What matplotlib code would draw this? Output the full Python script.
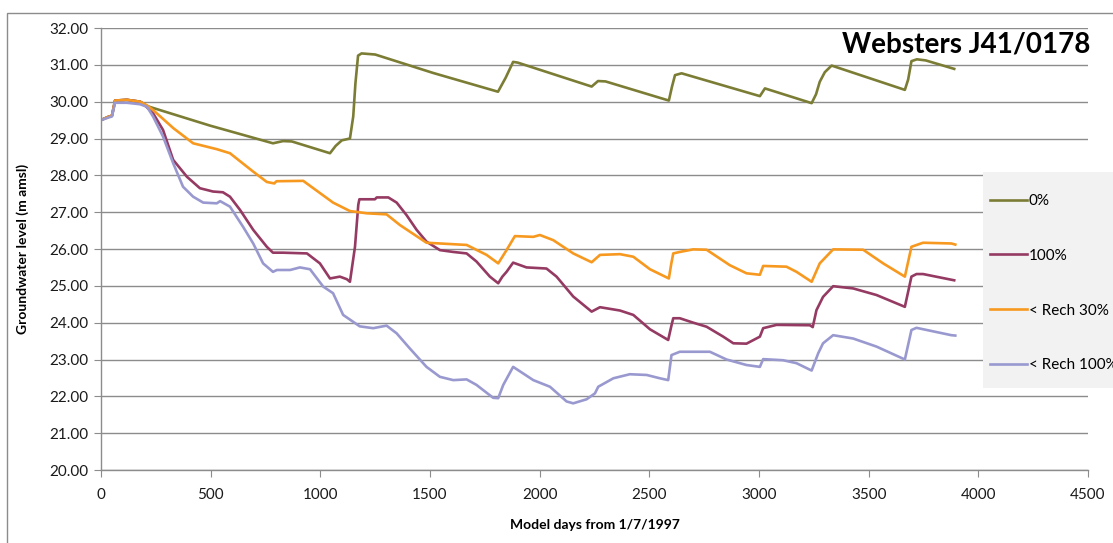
import matplotlib
matplotlib.use("Agg")
import matplotlib.pyplot as plt
from matplotlib.patches import Rectangle

plt.rcParams['font.family'] = ['Lato', 'DejaVu Sans']

# ---------------- data ----------------
series_labels = ["0%", "100%", "< Rech 30%", "< Rech 100%"]

green_days = [0, 30, 50, 64, 118, 178, 210, 497, 784, 830, 870, 1044, 1070, 1098, 1135,
              1150, 1160, 1172, 1188, 1250, 1514, 1810, 1845, 1879, 1900, 2237, 2266, 2300,
              2589, 2603, 2617, 2647, 3004, 3027, 3240, 3260, 3277, 3300, 3331, 3665, 3680,
              3695, 3720, 3760, 3890]
green_vals = [29.5, 29.58, 29.62, 30.03, 30.05, 30.0, 29.88, 29.35, 28.87, 28.93, 28.92, 28.6,
              28.8, 28.95, 29.0, 29.6, 30.5, 31.25, 31.31, 31.28, 30.78, 30.27, 30.65, 31.08,
              31.06, 30.41, 30.56, 30.55, 30.03, 30.4, 30.72, 30.77, 30.15, 30.36, 29.96, 30.2,
              30.54, 30.8, 30.98, 30.32, 30.6, 31.1, 31.15, 31.12, 30.89]

maroon_days = [0, 30, 50, 64, 118, 178, 192, 238, 283, 329, 392, 451, 511, 556, 588, 634, 694,
               756, 784, 830, 939, 998, 1044, 1089, 1121, 1135, 1158, 1173, 1178, 1249, 1257,
               1310, 1348, 1393, 1439, 1484, 1545, 1606, 1667, 1712, 1773, 1811, 1830, 1849,
               1879, 1940, 2031, 2077, 2153, 2237, 2275, 2366, 2427, 2503, 2586, 2600, 2609,
               2639, 2700, 2761, 2837, 2883, 2943, 3004, 3019, 3080, 3232, 3245, 3262, 3292,
               3338, 3429, 3536, 3665, 3695, 3718, 3748, 3890]
maroon_vals = [29.5, 29.58, 29.62, 30.03, 30.05, 30.0, 29.95, 29.68, 29.23, 28.42, 27.96, 27.65,
               27.56, 27.54, 27.42, 27.06, 26.52, 26.06, 25.9, 25.9, 25.88, 25.61, 25.2, 25.25,
               25.18, 25.11, 26.06, 27.2, 27.35, 27.35, 27.4, 27.4, 27.26, 26.92, 26.52, 26.2,
               25.97, 25.92, 25.88, 25.66, 25.25, 25.07, 25.25, 25.38, 25.63, 25.5, 25.47, 25.25,
               24.71, 24.3, 24.42, 24.33, 24.21, 23.82, 23.53, 23.9, 24.12, 24.12, 24.0, 23.89,
               23.62, 23.44, 23.43, 23.62, 23.85, 23.94, 23.93, 23.88, 24.34, 24.7, 24.99, 24.93,
               24.75, 24.43, 25.25, 25.32, 25.32, 25.15]

orange_days = [0, 30, 50, 64, 118, 178, 210, 238, 330, 420, 528, 588, 694, 756, 790, 800, 922,
               1058, 1135, 1211, 1302, 1363, 1484, 1667, 1758, 1811, 1849, 1887, 1971, 2001,
               2062, 2153, 2237, 2275, 2366, 2427, 2503, 2589, 2600, 2609, 2639, 2700, 2761,
               2867, 2943, 3004, 3019, 3125, 3171, 3240, 3277, 3338, 3475, 3566, 3665, 3695,
               3748, 3877, 3895]
orange_vals = [29.5, 29.58, 29.62, 30.03, 30.05, 30.0, 29.9, 29.77, 29.28, 28.87, 28.71, 28.6,
               28.1, 27.82, 27.78, 27.84, 27.85, 27.26, 27.03, 26.97, 26.94, 26.65, 26.17, 26.11,
               25.84, 25.61, 25.97, 26.35, 26.33, 26.38, 26.24, 25.88, 25.64, 25.84, 25.86, 25.79,
               25.45, 25.2, 25.6, 25.88, 25.92, 25.99, 25.98, 25.56, 25.34, 25.3, 25.54, 25.52,
               25.38, 25.11, 25.61, 25.99, 25.98, 25.61, 25.25, 26.06, 26.17, 26.15, 26.12]

lav_days = [0, 30, 50, 64, 118, 178, 210, 238, 283, 329, 374, 420, 466, 528, 543, 588, 648, 694,
            739, 784, 802, 862, 907, 953, 1013, 1058, 1104, 1180, 1241, 1302, 1348, 1408, 1484,
            1545, 1606, 1667, 1712, 1788, 1811, 1834, 1879, 1971, 2047, 2123, 2153, 2214, 2252,
            2267, 2336, 2411, 2488, 2548, 2586, 2601, 2639, 2776, 2852, 2943, 3004, 3019, 3110,
            3171, 3240, 3270, 3292, 3338, 3429, 3536, 3665, 3695, 3718, 3877, 3895]
lav_vals = [29.5, 29.56, 29.6, 29.97, 29.97, 29.93, 29.86, 29.59, 29.05, 28.33, 27.69, 27.42,
            27.26, 27.24, 27.3, 27.15, 26.6, 26.15, 25.61, 25.38, 25.43, 25.43, 25.5, 25.45,
            24.98, 24.8, 24.21, 23.9, 23.85, 23.92, 23.71, 23.3, 22.8, 22.53, 22.44, 22.46,
            22.31, 21.96, 21.95, 22.31, 22.8, 22.44, 22.26, 21.86, 21.81, 21.92, 22.08, 22.26,
            22.49, 22.6, 22.58, 22.49, 22.44, 23.12, 23.21, 23.21, 23.0, 22.85, 22.8, 23.01,
            22.98, 22.9, 22.7, 23.17, 23.44, 23.66, 23.57, 23.35, 23.0, 23.8, 23.86, 23.66, 23.65]

x_ticks = [0, 500, 1000, 1500, 2000, 2500, 3000, 3500, 4000, 4500]
y_ticks = [20, 21, 22, 23, 24, 25, 26, 27, 28, 29, 30, 31, 32]

colors = ["#7b7d35", "#953a62", "#f7981f", "#9999d0"]

# ---------------- figure ----------------
W, H = 1113, 543
fig = plt.figure(figsize=(W / 100, H / 100), dpi=100)
ax = fig.add_axes([101 / W, 1 - 470 / H, (1088 - 101) / W, (470 - 28) / H])

# outer chart border
fig.patches.append(Rectangle((7 / W, -0.05), 1.2, 1 - 13 / H + 0.05, transform=fig.transFigure,
                             fill=False, edgecolor="#8c8c8c", linewidth=1.0, zorder=0))

lines = []
for d, v, c in [(green_days, green_vals, colors[0]), (maroon_days, maroon_vals, colors[1]),
                (orange_days, orange_vals, colors[2]), (lav_days, lav_vals, colors[3])]:
    ln, = ax.plot(d, v, color=c, linewidth=1.9, solid_joinstyle="round")
    lines.append(ln)

ax.set_xlim(0, 4500)
ax.set_ylim(20, 32)
ax.set_xticks(x_ticks)
ax.set_yticks(y_ticks)
ax.set_yticklabels([f"{t:.2f}" for t in y_ticks])
ax.set_xticklabels([str(t) for t in x_ticks])
ax.yaxis.grid(True, color="#8c8c8c", linewidth=1.0)
ax.set_axisbelow(True)
for s in ["top", "right"]:
    ax.spines[s].set_visible(False)
for s in ["left", "bottom"]:
    ax.spines[s].set_color("#8c8c8c")
    ax.spines[s].set_linewidth(1.0)
ax.tick_params(axis="both", direction="out", length=5, color="#8c8c8c", labelsize=11,
               labelcolor="#1a1a1a")
ax.tick_params(axis="x", pad=8)
ax.tick_params(axis="y", pad=4)

ax.set_xlabel("Model days from 1/7/1997", fontsize=10, fontweight="bold", labelpad=12)
ax.set_ylabel("Groundwater level (m amsl)", fontsize=10, fontweight="bold", labelpad=15)

fig.text(1090 / W, 1 - 44 / H, "Websters J41/0178", fontsize=20, fontweight="bold",
         ha="right", va="center", color="#000000")

# legend background box
fig.patches.append(Rectangle((983 / W, 1 - 388 / H), 0.2, (388 - 172) / H,
                             transform=fig.transFigure, facecolor="#f2f2f2",
                             edgecolor="none", zorder=5))

leg = fig.legend(lines, series_labels, loc="upper left",
                 bbox_to_anchor=(990 / W, 1 - 194 / H), borderaxespad=0,
                 fontsize=11, frameon=False, handlelength=2.42, handletextpad=0.13,
                 labelspacing=2.67, borderpad=0)
leg.set_zorder(6)

fig.savefig("out.png", dpi=100)
